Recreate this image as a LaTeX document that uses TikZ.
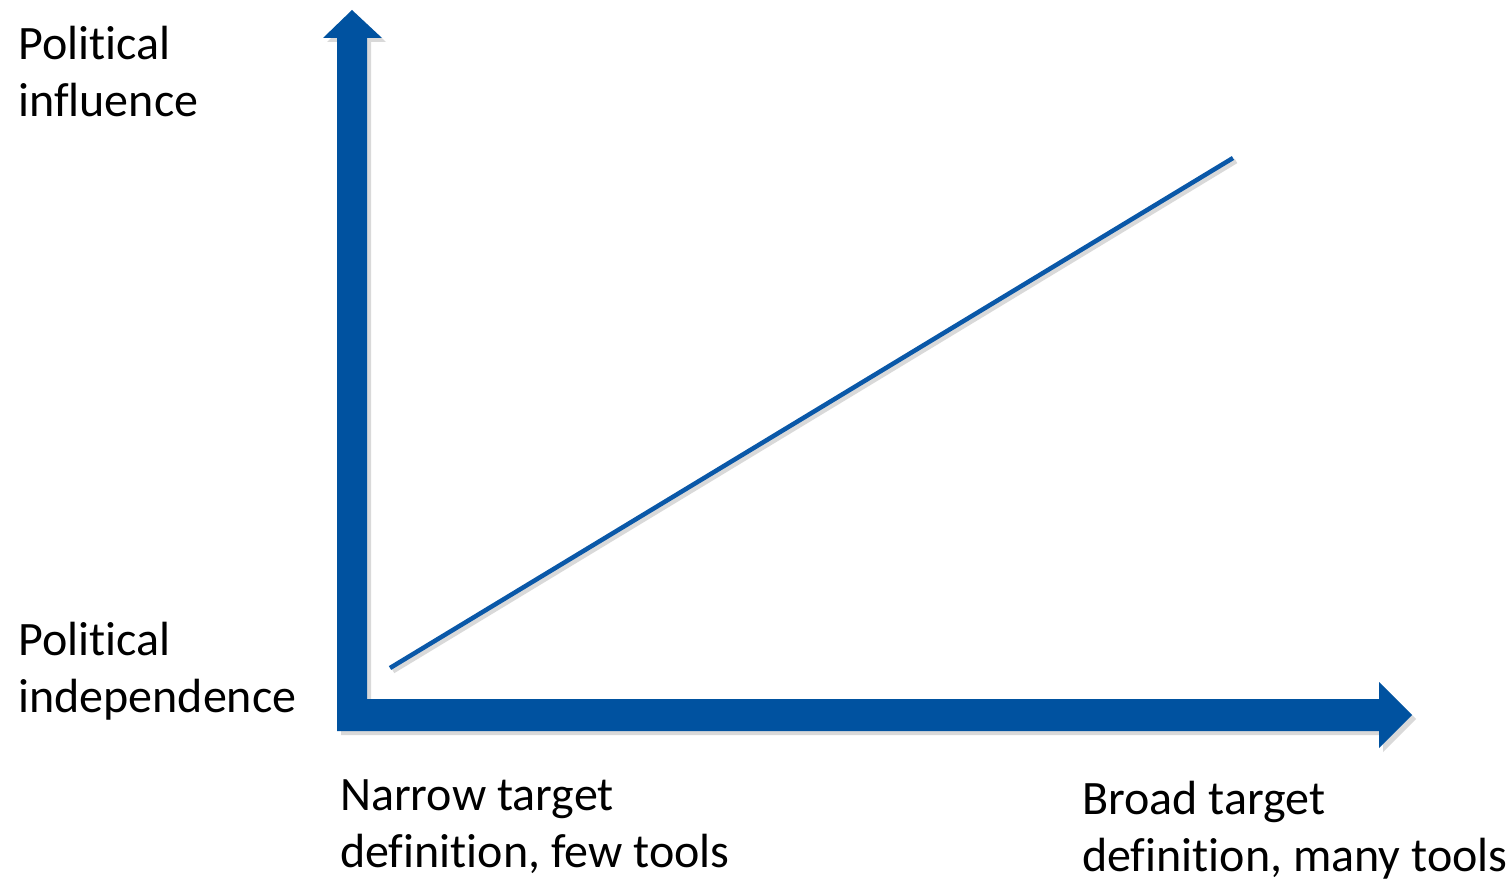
\documentclass[tikz,border=0pt]{standalone}
\usepackage{fontspec}
\setmainfont{Carlito}[Ligatures=NoCommon]
\usetikzlibrary{calc}
\definecolor{axisblue}{RGB}{0,82,160}
\definecolor{lineblue}{RGB}{10,88,168}
\begin{document}
\begin{tikzpicture}[x=1pt,y=-1pt,
  label/.style={anchor=base west,inner sep=0pt,align=left,font=\fontsize{48}{57}\selectfont},
  shade/.style={fill=black,opacity=0.15}]
\useasboundingbox (0,0) rectangle (1512,882);
\coordinate (corner) at (337,731);
\coordinate (ytip) at (352,10);
\coordinate (xtip) at (1412,715);
\coordinate (lstart) at (390,668);
\coordinate (lend) at (1233,158);
% shadows
\fill[shade] ($(corner)+(4,4)$) -- ++(0,-693) -- ++(-14,0) -- ++(29,-28) -- ++(30,28) -- ++(-15,0) -- ++(0,661) -- ++(1012,0) -- ++(0,-17) -- ++(33,33) -- ++(-33,33) -- ++(0,-17) -- cycle;
\draw[black,opacity=0.15,line width=5pt] ($(lstart)+(3,3)$) -- ($(lend)+(3,3)$);
% axes
\fill[axisblue] (corner) -- (337,38) -- (323,38) -- (ytip) -- (382,38) -- (367,38) -- (367,699) -- (1379,699) -- (1379,682) -- (xtip) -- (1379,748) -- (1379,731) -- cycle;
% line
\draw[lineblue,line width=4.5pt] (lstart) -- (lend);
% labels (anchor is the baseline of the last line)
\node[label] (infl) at (18,117) {Political\\influence};
\node[label] (indep) at (18,712) {Political\\independence};
\node[label] (narrow) at (340,867) {Narrow target\\definition, few tools};
\node[label] (broad) at (1082,871) {Broad target\\definition, many tools};
\end{tikzpicture}
\end{document}
